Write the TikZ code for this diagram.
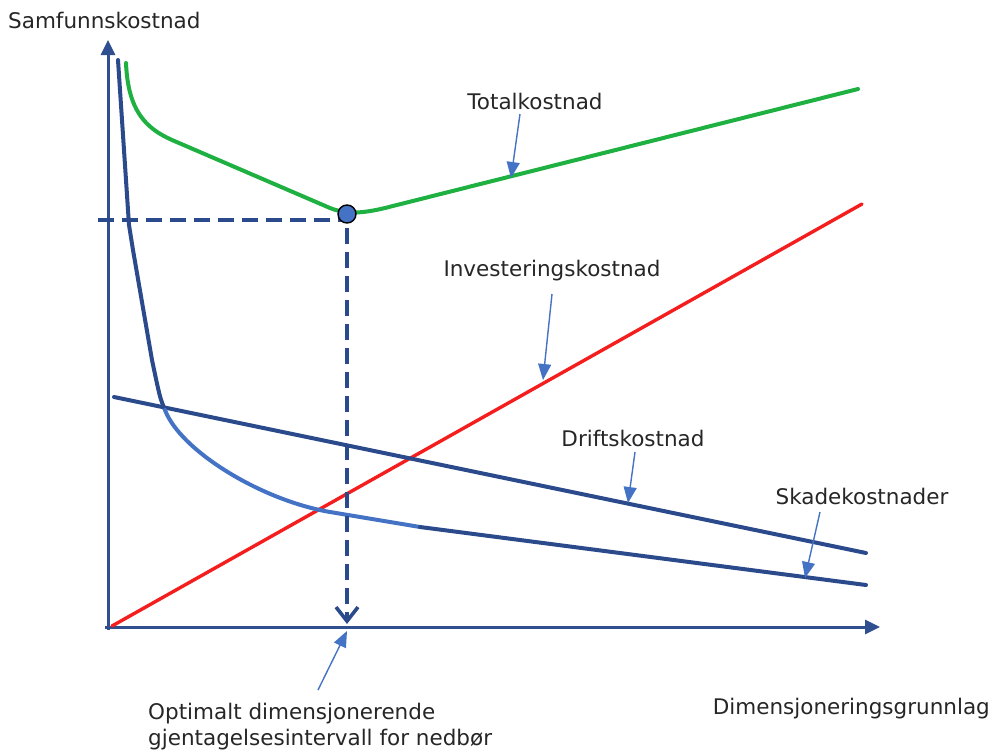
\documentclass[tikz,border=0pt]{standalone}
\usepackage{fontspec}
\setmainfont{DejaVu Sans}
\usetikzlibrary{arrows.meta}
\definecolor{axisblue}{HTML}{2F4F90}
\definecolor{navy}{HTML}{2B4A8C}
\definecolor{lblue}{HTML}{4472C4}
\definecolor{tgreen}{HTML}{1EB040}
\definecolor{tred}{HTML}{F41E1E}
\tikzset{
  axisline/.style={line width=3pt, draw=axisblue, -{Triangle[length=15pt,width=14pt]}},
  curve/.style={line width=4pt, line cap=round, line join=round},
  pointer/.style={line width=1.4pt, draw=lblue, -{Triangle[length=16pt,width=13pt]}},
  dashline/.style={line width=3.6pt, draw=navy, dash pattern=on 16pt off 8pt},
  lab/.style={inner sep=0pt, font=\fontsize{21.5}{28}\selectfont, text=black!85},
}
\begin{document}
\begin{tikzpicture}[x=1pt,y=-1pt]
\useasboundingbox (0,0) rectangle (994,753);
% axes
\coordinate (Ytop) at (108,40);
\coordinate (Xend) at (880,627);
\draw[axisline] (108,630) -- (Ytop);
\draw[axisline] (105,627) -- (Xend);
% investment (red)
\draw[curve, draw=tred, line width=3.4pt] (112,626) -- (862,204);
% drift
\draw[curve, draw=navy] (114,397) -- (866,553);
% skade
\draw[curve, draw=navy] (118,60) -- (129,225) -- (133,250) -- (152,360) .. controls (160,398) .. (165,410);
\draw[curve, draw=lblue] (165,410) .. controls (180,450) and (260,500) .. (330,512) -- (420,527);
\draw[curve, draw=navy] (420,527) -- (866,585);
% total
\draw[curve, draw=tgreen] (126,63) .. controls (128,110) and (145,128) .. (172,140)
  -- (330,208) .. controls (345,214) and (360,214) .. (385,208) -- (858,89);
% dashed guides
\coordinate (dl) at (98,220);
\coordinate (xopt) at (347,624);
\draw[dashline] (dl) -- (347,220);
\draw[dashline, -{Straight Barb[length=14pt,width=22pt]}] (347,228) -- (xopt);
\node[circle, fill=lblue, draw=black, line width=1.4pt, minimum size=18pt, inner sep=0pt] (opt) at (347,214) {};
% labels
\node[lab, anchor=west] (ylab) at (8,20) {Samfunnskostnad};
\node[lab, anchor=base east] (xlab) at (990,714) {Dimensjoneringsgrunnlag};
\node[lab, anchor=base west] (optlab1) at (148,719) {Optimalt dimensjonerende};
\node[lab, anchor=base west] (optlab2) at (148,745) {gjentagelsesintervall for nedbør};
\node[lab] (tot) at (535,101) {Totalkostnad};
\node[lab] (inv) at (552,271) {Investeringskostnad};
\node[lab] (dri) at (633,438) {Driftskostnad};
\node[lab] (ska) at (862,496) {Skadekostnader};
% pointers
\coordinate (p1) at (511,178);
\coordinate (p2) at (543,380);
\coordinate (p3) at (628,503);
\coordinate (p4) at (805,578);
\coordinate (p5) at (347,631);
\coordinate (s5) at (318,690);
\draw[pointer] (520,114) -- (p1);
\draw[pointer] (552,294) -- (p2);
\draw[pointer] (635,452) -- (p3);
\draw[pointer] (820,512) -- (p4);
\draw[pointer] (s5) -- (p5);
\end{tikzpicture}
\end{document}
